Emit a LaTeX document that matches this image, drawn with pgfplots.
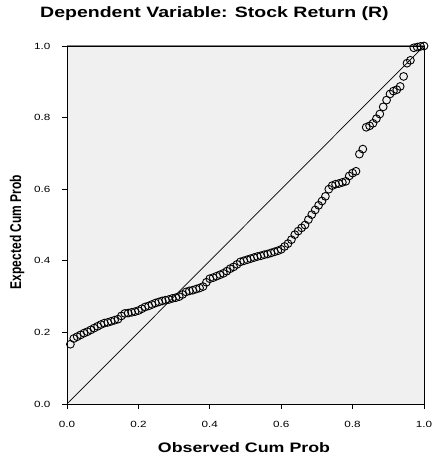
\documentclass[border=0pt]{standalone}
\usepackage{fontspec}
\usepackage{graphicx}
\setmainfont{Liberation Sans}
\newfontfamily\wide[FakeStretch=1.3]{Liberation Sans}
\usepackage{pgfplots}
\pgfplotsset{compat=1.18}
\definecolor{bggray}{RGB}{240,240,240}
\definecolor{topgray}{RGB}{128,128,128}
\begin{document}
\begin{tikzpicture}
\path[use as bounding box] (-67pt,-56pt) rectangle (370pt,404pt);
\begin{axis}[
  scale only axis,
  width=357pt, height=358pt,
  at={(0pt,0pt)}, anchor=south west,
  xmin=0, xmax=1, ymin=0, ymax=1,
  axis background/.style={fill=bggray},
  axis line style={black, line width=0.8pt},
  xtick={0,0.2,0.4,0.6,0.8,1.0},
  ytick={0,0.2,0.4,0.6,0.8,1.0},
  xticklabels={0.0,0.2,0.4,0.6,0.8,1.0},
  yticklabels={0.0,0.2,0.4,0.6,0.8,1.0},
  tick align=outside,
  xtick pos=left, ytick pos=left,
  major tick length=5pt,
  tick style={black, line width=0.8pt},
  xticklabel style={font=\wide\fontsize{9}{10}\selectfont, yshift=-9pt},
  yticklabel style={font=\wide\fontsize{9}{10}\selectfont, xshift=-8pt},
]
\addplot[black, line width=0.7pt] coordinates {(0,0) (1,1)};
\addplot[only marks, mark=o, mark size=3.9pt, mark options={black, line width=0.9pt}] coordinates {
(0.0095,0.167) (0.0190,0.183) (0.0286,0.188) (0.0381,0.193) (0.0476,0.198)
(0.0571,0.202) (0.0667,0.207) (0.0762,0.212) (0.0857,0.217) (0.0952,0.222)
(0.1048,0.226) (0.1143,0.228) (0.1238,0.231) (0.1333,0.234) (0.1429,0.237)
(0.1524,0.246) (0.1619,0.253) (0.1714,0.254) (0.1810,0.256) (0.1905,0.258)
(0.2000,0.261) (0.2095,0.266) (0.2190,0.271) (0.2286,0.274) (0.2381,0.278)
(0.2476,0.282) (0.2571,0.285) (0.2667,0.288) (0.2762,0.290) (0.2857,0.292)
(0.2952,0.295) (0.3048,0.297) (0.3143,0.300) (0.3238,0.306) (0.3333,0.313)
(0.3429,0.316) (0.3524,0.318) (0.3619,0.321) (0.3714,0.324) (0.3810,0.328)
(0.3905,0.340) (0.4000,0.350) (0.4095,0.353) (0.4190,0.357) (0.4286,0.361)
(0.4381,0.365) (0.4476,0.371) (0.4571,0.378) (0.4667,0.383) (0.4762,0.390)
(0.4857,0.397) (0.4952,0.400) (0.5048,0.403) (0.5143,0.406) (0.5238,0.409)
(0.5333,0.412) (0.5429,0.414) (0.5524,0.417) (0.5619,0.419) (0.5714,0.422)
(0.5810,0.425) (0.5905,0.428) (0.6000,0.432) (0.6095,0.440) (0.6190,0.448)
(0.6286,0.459) (0.6381,0.473) (0.6476,0.483) (0.6571,0.492) (0.6667,0.500)
(0.6762,0.515) (0.6857,0.529) (0.6952,0.542) (0.7048,0.555) (0.7143,0.567)
(0.7238,0.580) (0.7333,0.600) (0.7429,0.610) (0.7524,0.614) (0.7619,0.616)
(0.7714,0.619) (0.7810,0.622) (0.7905,0.637) (0.8000,0.645) (0.8095,0.650)
(0.8190,0.698) (0.8286,0.712) (0.8381,0.773) (0.8476,0.777) (0.8571,0.784)
(0.8667,0.797) (0.8762,0.810) (0.8857,0.830) (0.8952,0.849) (0.9048,0.866)
(0.9143,0.874) (0.9238,0.878) (0.9333,0.887) (0.9429,0.915) (0.9524,0.952)
(0.9619,0.960) (0.9714,0.995) (0.9810,0.997) (0.9905,0.999) (1.0000,1.000)
};
\draw[topgray, line width=1pt] (axis cs:0,1) -- (axis cs:1,1);
\draw[black, line width=0.8pt] (axis cs:1,0) -- (axis cs:1,1);
\end{axis}
\node[font=\wide\bfseries\fontsize{15}{18}\selectfont] at (147.5pt,390pt) {Dependent Variable: Stock Return (R)};
\node[font=\wide\bfseries\fontsize{13.7}{16}\selectfont] at (177pt,-44pt) {Observed Cum Prob};
\node at (-50pt,172pt) {\rotatebox{90}{\scalebox{1}[1.3]{\bfseries\fontsize{12}{14}\selectfont Expected Cum Prob}}};
\end{tikzpicture}
\end{document}
